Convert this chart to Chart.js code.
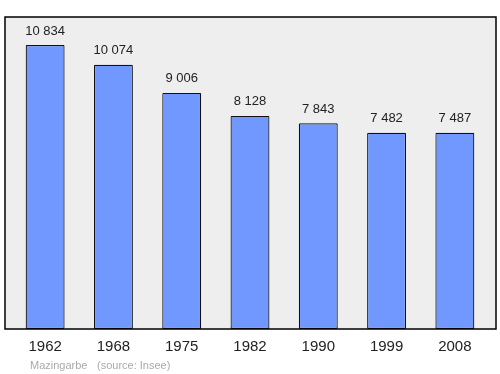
<!DOCTYPE html>
<html>
<head>
<meta charset="utf-8">
<script src="https://cdn.jsdelivr.net/npm/chart.js@4"></script>
<style>
  html, body { margin: 0; padding: 0; background: #fff; }
  #wrap { width: 500px; height: 374px; }
</style>
</head>
<body>
<div id="wrap"><canvas id="popChart" width="500" height="374"></canvas></div>
<script>
const years = ['1962', '1968', '1975', '1982', '1990', '1999', '2008'];
const population = [10834, 10074, 9006, 8128, 7843, 7482, 7487];
const commune = 'Mazingarbe';
const source = '(source: Insee)';

function fmt(n) {
  return String(n).replace(/\B(?=(\d{3})+(?!\d))/g, ' ');
}

// fond gris + cadre noir
const frame = {
  id: 'frame',
  beforeDraw(chart) {
    const { ctx, chartArea: a } = chart;
    ctx.save();
    ctx.fillStyle = '#eeeeee';
    ctx.fillRect(a.left - 6, a.top, a.right - a.left + 13, a.bottom - a.top);
    ctx.restore();
  },
  afterDraw(chart) {
    const { ctx, chartArea: a } = chart;
    ctx.save();
    ctx.strokeStyle = '#000';
    ctx.lineWidth = 1.5;
    ctx.strokeRect(a.left - 6, a.top, a.right - a.left + 13, a.bottom - a.top);
    ctx.fillStyle = '#aaaaaa';
    ctx.font = '11px "Liberation Sans", Arial, sans-serif';
    ctx.textBaseline = 'middle';
    ctx.fillText(commune, 30, 366);
    ctx.fillText(source, 97, 366);
    ctx.restore();
  }
};

// valeurs au-dessus des barres
const valueLabels = {
  id: 'valueLabels',
  afterDatasetsDraw(chart) {
    const ctx = chart.ctx;
    const meta = chart.getDatasetMeta(0);
    ctx.save();
    ctx.fillStyle = '#222';
    ctx.font = '13px "Liberation Sans", Arial, sans-serif';
    ctx.textAlign = 'center';
    ctx.textBaseline = 'middle';
    meta.data.forEach((bar, i) => {
      ctx.fillText(fmt(population[i]), bar.x, bar.y - 14);
    });
    ctx.restore();
  }
};

new Chart(document.getElementById('popChart'), {
  type: 'bar',
  data: {
    labels: years,
    datasets: [{
      data: population,
      backgroundColor: '#7098ff',
      borderColor: '#111',
      borderWidth: 1.2,
      borderSkipped: false,
      borderRadius: 1,
      categoryPercentage: 1,
      barPercentage: 0.57
    }]
  },
  options: {
    responsive: false,
    animation: false,
    layout: { padding: { left: 11, right: 11, top: 17, bottom: 9 } },
    plugins: {
      legend: { display: false },
      tooltip: { enabled: false }
    },
    scales: {
      x: {
        grid: { display: false, drawTicks: false },
        border: { display: false },
        ticks: {
          color: '#222',
          padding: 9,
          font: { size: 15, family: '"Liberation Sans", Arial, sans-serif' }
        }
      },
      y: {
        display: false,
        min: 0,
        max: 11900
      }
    }
  },
  plugins: [frame, valueLabels]
});
</script>
</body>
</html>
